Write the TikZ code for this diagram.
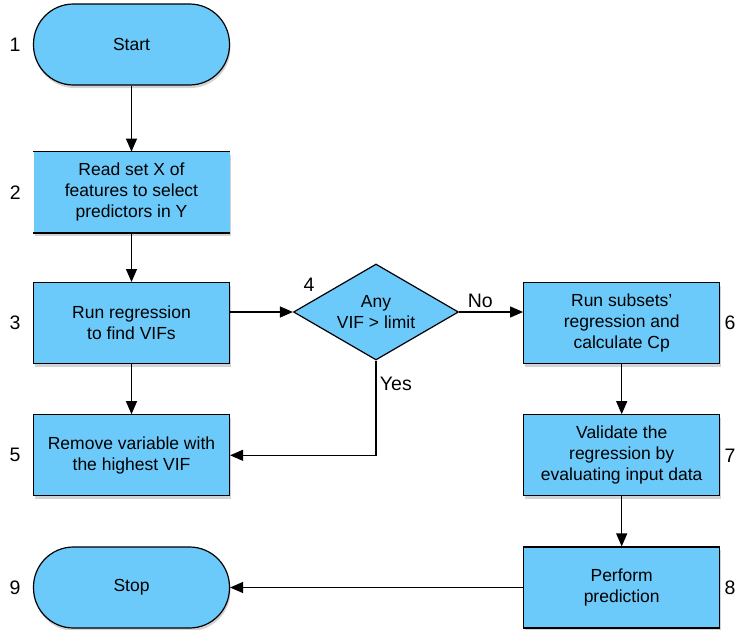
\documentclass[tikz,border=0pt]{standalone}
\usepackage{fontspec}
\setmainfont{Liberation Sans}
\usetikzlibrary{positioning,shapes.geometric,shadows,arrows.meta}
\definecolor{boxblue}{RGB}{108,202,250}

\begin{document}
\begin{tikzpicture}[
    x=1pt, y=-1pt,
    node distance=50pt,
    every node/.style={font=\fontsize{17.5}{21}\selectfont},
    num/.style={font=\fontsize{19.5}{21}\selectfont},
    myshadow/.style={drop shadow={opacity=0.35, shadow xshift=1pt, shadow yshift=-3pt}},
    box/.style={draw, line width=1.2pt, fill=boxblue, minimum width=196pt, minimum height=81pt, align=center, myshadow},
    openbox/.style={fill=boxblue, minimum width=196pt, minimum height=81pt, align=center, myshadow},
    term/.style={box, rounded corners=40pt},
    decision/.style={diamond, draw, line width=1.2pt, fill=boxblue, aspect=1.72, minimum width=165pt, minimum height=96pt, inner sep=0pt, align=center},
    arr/.style={-{Triangle[length=13pt, width=11pt]}, line width=1.2pt}
]
\useasboundingbox (0,0) rectangle (736,629);

% left column
\node[term] (start) at (131.5,44.5) {Start};
\node[openbox, below=66pt of start] (read) {Read set X of\\features to select\\predictors in Y};
\draw[line width=1.2pt] (read.north west) -- (read.north east);
\draw[line width=1.2pt] (read.south west) -- (read.south east);
\node[box, below=49pt of read] (regr) {Run regression\\to find VIFs};
\node[box, below=of regr] (remove) {Remove variable with\\the highest VIF};
\node[term, below=of remove] (stop) {Stop};

% decision
\node[decision] (vif) at (376,312) {Any\\VIF > limit};

% right column
\node[box, right=293pt of regr] (subsets) {Run subsets'\\regression and\\calculate Cp};
\node[box, below=of subsets] (valid) {Validate the\\regression by\\evaluating input data};
\node[box, below=of valid] (predict) {Perform\\prediction};

% step numbers
\node[num, left=9pt of start] {1};
\node[num, left=9pt of read] {2};
\node[num, left=9pt of regr] {3};
\node[num] at (309,285) {4};
\node[num, left=9pt of remove] {5};
\node[num, inner sep=0pt, right=4pt of subsets] {6};
\node[num, inner sep=0pt, right=4pt of valid] {7};
\node[num, inner sep=0pt, right=4pt of predict] {8};
\node[num, left=9pt of stop] {9};

% connectors
\draw[arr] (start) -- (read);
\draw[arr] (read) -- (regr);
\draw[arr] (regr.east |- vif.west) -- (vif.west);
\draw[arr] (vif.east) -- node[num, above, pos=0.33] {No} (subsets.west |- vif.east);
\draw[arr] (regr) -- (remove);
\draw[arr] (vif.south) |- node[num, pos=0.125, right] {Yes} (remove.east);
\draw[arr] (subsets) -- (valid);
\draw[arr] (valid) -- (predict);
\draw[arr] (predict) -- (stop);

\end{tikzpicture}
\end{document}
